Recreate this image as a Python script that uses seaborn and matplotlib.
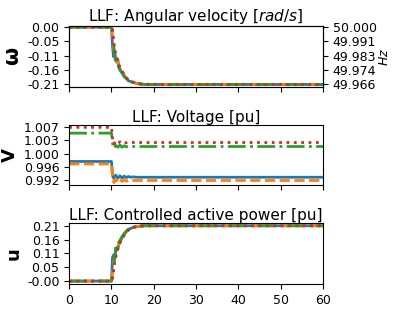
import numpy as np
import pandas as pd
import matplotlib
matplotlib.use('Agg')
import matplotlib.pyplot as plt
from matplotlib.ticker import FormatStrFormatter
import seaborn as sns

# Angular velocity deviation [rad/s]
t_omega = [0, 10, 10.25, 10.5, 10.75, 11, 11.25, 11.5, 11.75, 12, 12.5, 13, 13.5,
           14, 15, 16, 17, 18, 20, 25, 60]
omega_1 = [0, 0, -0.07, -0.11, -0.09, -0.12, -0.13, -0.12, -0.15, -0.16, -0.17, -0.185,
           -0.19, -0.2, -0.205, -0.21, -0.212, -0.2135, -0.2135, -0.2135, -0.2135]
omega_2 = [0, 0, -0.03, -0.08, -0.1, -0.11, -0.12, -0.135, -0.14, -0.15, -0.165, -0.18,
           -0.19, -0.197, -0.205, -0.21, -0.212, -0.213, -0.2135, -0.2135, -0.2135]
omega_3 = [0, 0, -0.02, -0.06, -0.1, -0.135, -0.12, -0.125, -0.15, -0.155, -0.17, -0.18,
           -0.192, -0.2, -0.206, -0.21, -0.212, -0.2135, -0.2135, -0.2135, -0.2135]
omega_4 = [0, 0, -0.01, -0.05, -0.08, -0.1, -0.115, -0.13, -0.14, -0.15, -0.163, -0.177,
           -0.188, -0.196, -0.204, -0.209, -0.212, -0.213, -0.2135, -0.2135, -0.2135]

# Voltage [pu]
t_volt = [0, 10, 10.3, 10.6, 11, 11.5, 12, 12.5, 13, 13.5, 14, 14.5, 15, 16, 17, 60]
volt_1 = [0.99756, 0.99756, 0.9935, 0.9928, 0.9938, 0.9929, 0.9936, 0.993, 0.9935,
          0.9931, 0.9934, 0.9932, 0.9933, 0.9932, 0.9932, 0.9932]
volt_2 = [0.99687, 0.99687, 0.9925, 0.9917, 0.9928, 0.9918, 0.9926, 0.992, 0.9925,
          0.9921, 0.9924, 0.9922, 0.9923, 0.9923, 0.9923, 0.9923]
volt_3 = [1.0054, 1.0054, 1.0024, 1.0012, 1.002, 1.0015, 1.0021, 1.0015, 1.0019,
          1.0016, 1.0018, 1.0017, 1.0017, 1.0017, 1.0017, 1.0017]
volt_4 = [1.007, 1.007, 1.0034, 1.0024, 1.0031, 1.0025, 1.003, 1.0026, 1.0029,
          1.0027, 1.0028, 1.0028, 1.0028, 1.0028, 1.0028, 1.0028]

# Controlled active power [pu]
t_ctrl = [0, 10, 10.25, 10.5, 10.75, 11, 11.25, 11.5, 11.75, 12, 12.5, 13, 13.5,
          14, 15, 16, 17, 18, 20, 25, 60]
ctrl_1 = [0, 0, 0.09, 0.1, 0.08, 0.11, 0.125, 0.12, 0.14, 0.15, 0.165, 0.18, 0.19,
          0.197, 0.204, 0.208, 0.21, 0.211, 0.211, 0.211, 0.211]
ctrl_2 = [0, 0, 0.03, 0.07, 0.09, 0.1, 0.115, 0.13, 0.14, 0.15, 0.163, 0.177, 0.188,
          0.196, 0.204, 0.208, 0.21, 0.211, 0.211, 0.211, 0.211]
ctrl_3 = [0, 0, 0.02, 0.05, 0.09, 0.13, 0.14, 0.125, 0.15, 0.155, 0.17, 0.18, 0.19,
          0.198, 0.205, 0.209, 0.21, 0.211, 0.211, 0.211, 0.211]
ctrl_4 = [-0.0001, -0.0001, 0.01, 0.04, 0.07, 0.09, 0.11, 0.125, 0.135, 0.145, 0.16,
          0.174, 0.186, 0.195, 0.203, 0.208, 0.21, 0.211, 0.211, 0.211, 0.211]

omega_ticks = [0, -0.0534, -0.1068, -0.1601, -0.2135]
hz_labels = ['50.000', '49.991', '49.983', '49.974', '49.966']
volt_ticks = [0.9923, 0.99603, 0.99976, 1.00349, 1.00722]
ctrl_ticks = [-0.0001, 0.0527, 0.1055, 0.1582, 0.211]
x_ticks = [0, 10, 20, 30, 40, 50, 60]

colors = ['#1f77b4', '#ff7f0e', '#2ca02c', '#d62728']
styles = ['-', '--', '-.', ':']

plt.rcParams.update({'font.family': 'DejaVu Sans', 'font.size': 9})

fig, axes = plt.subplots(3, 1, figsize=(3.95, 3.1), dpi=100, sharex=True)
fig.subplots_adjust(left=0.175, right=0.818, top=0.916, bottom=0.084, hspace=0.62)

panels = [
    (t_omega, [omega_1, omega_2, omega_3, omega_4], 'LLF: Angular velocity [$rad/s$]',
     r'$\mathbf{\omega}$', omega_ticks, '%.2f', (-0.2225, 0.004)),
    (t_volt, [volt_1, volt_2, volt_3, volt_4], 'LLF: Voltage [pu]',
     'V', volt_ticks, '%.3f', None),
    (t_ctrl, [ctrl_1, ctrl_2, ctrl_3, ctrl_4], 'LLF: Controlled active power [pu]',
     'u', ctrl_ticks, '%.2f', (-0.011, 0.221)),
]

for ax, (t, series, title, ylab, ticks, fmt, lim) in zip(axes, panels):
    for i, s in enumerate(series):
        df = pd.DataFrame({'t': t, 'v': s})
        sns.lineplot(data=df, x='t', y='v', ax=ax, color=colors[i],
                     linestyle=styles[i], linewidth=2)
    ax.set_title(title, fontsize=11, pad=2)
    ax.set_ylabel(ylab, fontsize=13, fontweight='bold', labelpad=3)
    ax.set_xlabel('')
    ax.set_yticks(ticks)
    ax.yaxis.set_major_formatter(FormatStrFormatter(fmt))
    if lim is not None:
        ax.set_ylim(*lim)
    ax.set_xlim(0, 60)
    ax.set_xticks(x_ticks)

axes[0].set_ylabel(r'$\mathbf{\omega}$', fontsize=15, labelpad=3)

# Frequency scale on the right of the first panel
ax_hz = axes[0].twinx()
ax_hz.set_ylim(axes[0].get_ylim())
ax_hz.set_yticks(omega_ticks)
ax_hz.set_yticklabels(hz_labels)
ax_hz.set_ylabel('$Hz$', fontsize=9, labelpad=1)

fig.savefig('out.png', dpi=100)
